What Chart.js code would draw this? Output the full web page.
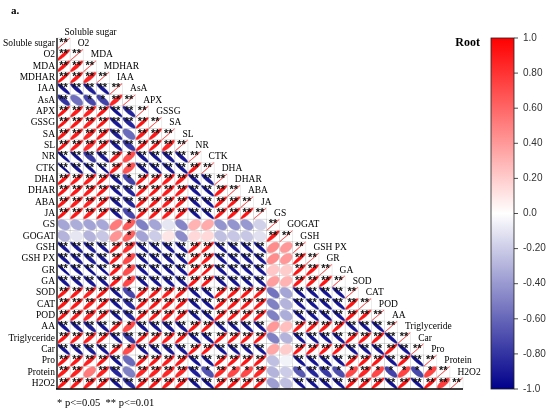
<!DOCTYPE html>
<html>
<head>
<meta charset="utf-8">
<script src="https://cdn.jsdelivr.net/npm/chart.js@4.4.1/dist/chart.umd.min.js"></script>
<style>
html, body { margin: 0; padding: 0; background: #fff; }
#wrap { width: 550px; height: 413px; }
</style>
</head>
<body>
<div id="wrap"><canvas id="corrChart"></canvas></div>
<script>
// variable names, in matrix order (rows top->bottom, columns left->right)
const variables = ['Soluble sugar', 'O2', 'MDA', 'MDHAR', 'IAA', 'AsA', 'APX', 'GSSG', 'SA', 'SL',
    'NR', 'CTK', 'DHA', 'DHAR', 'ABA', 'JA', 'GS', 'GOGAT', 'GSH', 'GSH PX', 'GR', 'GA',
    'SOD', 'CAT', 'POD', 'AA', 'Triglyceride', 'Car', 'Pro', 'Protein', 'H2O2'];

// lower triangle of the correlation matrix
const corrRows = [
    [1],
    [0.93, 1],
    [0.92, 0.90, 1],
    [0.94, 0.91, 0.86, 1],
    [-0.92, -0.90, -0.88, -0.91, 1],
    [-0.80, -0.56, -0.72, -0.74, 0.86, 1],
    [0.93, 0.90, 0.88, 0.92, -0.93, -0.86, 1],
    [0.94, 0.92, 0.89, 0.93, -0.90, -0.85, 0.93, 1],
    [0.92, 0.90, 0.86, 0.91, -0.88, -0.58, 0.90, 0.91, 1],
    [0.93, 0.91, 0.84, 0.92, -0.90, -0.78, 0.92, 0.93, 0.86, 1],
    [-0.95, -0.93, -0.78, -0.90, 0.90, 0.70, -0.91, -0.92, -0.90, -0.91, 1],
    [-0.97, -0.92, -0.93, -0.96, 0.90, 0.68, -0.92, -0.93, -0.91, -0.92, 0.92, 1],
    [0.92, 0.91, 0.89, 0.92, -0.90, -0.74, 0.92, 0.92, 0.90, 0.90, -0.91, -0.90, 1],
    [0.93, 0.91, 0.90, 0.92, -0.92, -0.86, 0.92, 0.93, 0.90, 0.91, -0.92, -0.93, 0.91, 1],
    [0.92, 0.90, 0.88, 0.92, -0.91, -0.85, 0.92, 0.92, 0.90, 0.91, -0.92, -0.92, 0.92, 0.93, 1],
    [0.93, 0.91, 0.89, 0.92, -0.91, -0.72, 0.92, 0.92, 0.90, 0.91, -0.92, -0.93, 0.92, 0.92, 0.93, 1],
    [-0.35, -0.32, -0.36, -0.34, 0.52, 0.64, -0.50, -0.35, -0.10, -0.48, 0.30, 0.33, -0.42, -0.42, -0.40, -0.18, 1],
    [-0.30, -0.10, -0.30, -0.22, 0.42, 0.62, -0.36, -0.20, 0.10, -0.45, 0.15, 0.15, -0.25, -0.22, -0.22, -0.12, 0.90, 1],
    [-0.92, -0.91, -0.89, -0.92, 0.92, 0.82, -0.92, -0.93, -0.90, -0.91, 0.92, 0.92, -0.92, -0.92, -0.92, -0.92, 0.45, 0.40, 1],
    [-0.92, -0.90, -0.89, -0.91, 0.91, 0.72, -0.92, -0.92, -0.90, -0.91, 0.92, 0.91, -0.92, -0.92, -0.91, -0.92, 0.45, 0.40, 0.93, 1],
    [-0.96, -0.92, -0.95, -0.96, 0.91, 0.70, -0.92, -0.93, -0.92, -0.92, 0.92, 0.95, -0.92, -0.93, -0.92, -0.92, 0.22, 0.20, 0.92, 0.92, 1],
    [-0.92, -0.91, -0.90, -0.92, 0.91, 0.72, -0.92, -0.92, -0.90, -0.91, 0.92, 0.92, -0.92, -0.92, -0.92, -0.92, 0.38, 0.30, 0.92, 0.92, 0.92, 1],
    [0.92, 0.91, 0.89, 0.92, -0.92, -0.72, 0.92, 0.92, 0.90, 0.91, -0.92, -0.92, 0.92, 0.92, 0.92, 0.92, -0.55, -0.35, -0.92, -0.92, -0.92, -0.92, 1],
    [0.92, 0.91, 0.89, 0.92, -0.92, -0.84, 0.92, 0.92, 0.90, 0.91, -0.92, -0.92, 0.92, 0.92, 0.92, 0.92, -0.50, -0.30, -0.92, -0.92, -0.92, -0.92, 0.92, 1],
    [0.92, 0.91, 0.86, 0.92, -0.92, -0.86, 0.92, 0.92, 0.90, 0.91, -0.92, -0.92, 0.92, 0.92, 0.92, 0.92, -0.50, -0.32, -0.92, -0.92, -0.92, -0.92, 0.92, 0.93, 1],
    [-0.92, -0.91, -0.88, -0.92, 0.92, 0.72, -0.92, -0.92, -0.90, -0.91, 0.92, 0.92, -0.92, -0.92, -0.92, -0.92, 0.40, 0.25, 0.92, 0.92, 0.92, 0.92, -0.92, -0.92, -0.92, 1],
    [0.92, 0.91, 0.89, 0.92, -0.92, -0.80, 0.92, 0.92, 0.90, 0.91, -0.92, -0.92, 0.92, 0.92, 0.92, 0.92, -0.50, -0.30, -0.92, -0.92, -0.92, -0.92, 0.92, 0.92, 0.92, -0.92, 1],
    [-0.92, -0.91, -0.89, -0.92, 0.92, 0.70, -0.92, -0.92, -0.90, -0.91, 0.92, 0.92, -0.92, -0.92, -0.92, -0.92, 0.35, 0.20, 0.92, 0.92, 0.92, 0.92, -0.92, -0.92, -0.92, 0.92, -0.92, 1],
    [0.92, 0.91, 0.88, 0.92, -0.92, -0.58, 0.92, 0.92, 0.90, 0.91, -0.92, -0.92, 0.92, 0.92, 0.92, 0.92, -0.25, -0.05, -0.92, -0.92, -0.92, -0.92, 0.92, 0.92, 0.92, -0.92, 0.92, -0.92, 1],
    [0.90, 0.88, 0.52, 0.88, -0.85, -0.50, 0.86, 0.88, 0.85, 0.86, -0.88, -0.68, 0.85, 0.72, 0.72, 0.85, -0.30, -0.20, -0.66, -0.86, -0.78, -0.70, 0.72, 0.86, 0.72, -0.74, 0.74, -0.72, 0.74, 1],
    [0.92, 0.91, 0.89, 0.92, -0.92, -0.84, 0.92, 0.92, 0.90, 0.91, -0.92, -0.92, 0.92, 0.92, 0.92, 0.92, -0.38, -0.25, -0.92, -0.92, -0.92, -0.92, 0.92, 0.92, 0.92, -0.92, 0.92, -0.92, 0.92, 0.76, 1]
];

// colour bar ticks
const barTicks = [1, 0.8, 0.6, 0.4, 0.2, 0, -0.2, -0.4, -0.6, -0.8, -1];
const barTickLabels = ['1.0', '0.80', '0.60', '0.40', '0.20', '0.0', '-0.20', '-0.40', '-0.60', '-0.80', '-1.0'];

const n = variables.length;
const cells = [];
corrRows.forEach((row, i) => row.forEach((r, j) => cells.push({ x: j + 0.5, y: i + 0.5, r: r })));

// white -> red for positive, white -> navy for negative
function corrColor(r) {
    const t = Math.min(1, Math.abs(r));
    if (r >= 0) {
        const g = Math.round(255 * (1 - t));
        return 'rgb(255,' + g + ',' + g + ')';
    }
    const c = Math.round(255 * (1 - t));
    return 'rgb(' + c + ',' + c + ',' + Math.round(255 - 116 * t) + ')';
}

function stars(r) {
    const a = Math.abs(r);
    if (a >= 0.76) return '**';
    if (a >= 0.6) return '*';
    return '';
}

const serif = '"Liberation Serif", "Times New Roman", serif';
const sans = '"Liberation Sans", Arial, sans-serif';

const ellipsePlugin = {
    id: 'corrEllipses',
    afterDatasetsDraw(chart) {
        const ctx = chart.ctx;
        const xs = chart.scales.x, ys = chart.scales.y, bar = chart.scales.bar;
        const area = chart.chartArea;
        const meta = chart.getDatasetMeta(0);
        ctx.save();

        // cell borders
        ctx.strokeStyle = 'rgba(0,0,0,0.13)';
        ctx.lineWidth = 0.6;
        cells.forEach(c => {
            const x0 = xs.getPixelForValue(c.x - 0.5), x1 = xs.getPixelForValue(c.x + 0.5);
            const y0 = ys.getPixelForValue(c.y - 0.5), y1 = ys.getPixelForValue(c.y + 0.5);
            ctx.strokeRect(x0, y0, x1 - x0, y1 - y0);
        });

        // ellipses
        const K = 0.93;
        meta.data.forEach((pt, k) => {
            const c = cells[k];
            const hw = (xs.getPixelForValue(c.x + 0.5) - xs.getPixelForValue(c.x - 0.5)) / 2 * K;
            const hh = (ys.getPixelForValue(c.y + 0.5) - ys.getPixelForValue(c.y - 0.5)) / 2 * K;
            const a = Math.sqrt(1 + c.r) / Math.SQRT2;
            const b = Math.sqrt(Math.max(0, 1 - c.r)) / Math.SQRT2;
            ctx.beginPath();
            for (let s = 0; s <= 48; s++) {
                const t = s / 48 * 2 * Math.PI;
                const u = a * Math.cos(t) + b * Math.sin(t);
                const v = a * Math.cos(t) - b * Math.sin(t);
                const px = pt.x + u * hw, py = pt.y - v * hh;
                if (s === 0) ctx.moveTo(px, py); else ctx.lineTo(px, py);
            }
            ctx.closePath();
            ctx.fillStyle = corrColor(c.r);
            ctx.fill();
            ctx.strokeStyle = c.r >= 1 ? 'rgba(255,60,60,0.9)' : corrColor(c.r);
            ctx.lineWidth = c.r >= 1 ? 0.8 : 0.5;
            ctx.stroke();
        });

        // significance marks
        ctx.fillStyle = '#111';
        ctx.font = 'bold 11px ' + sans;
        ctx.textAlign = 'center';
        ctx.textBaseline = 'top';
        cells.forEach(c => {
            const s = stars(c.r);
            if (!s) return;
            ctx.fillText(s, xs.getPixelForValue(c.x), ys.getPixelForValue(c.y - 0.5) - 0.5);
        });

        // axis lines
        ctx.strokeStyle = '#555';
        ctx.lineWidth = 2;
        ctx.beginPath();
        ctx.moveTo(area.left, area.top);
        ctx.lineTo(area.left, area.bottom);
        ctx.stroke();
        ctx.strokeStyle = '#000';
        ctx.lineWidth = 1.5;
        ctx.beginPath();
        ctx.moveTo(area.left - 1, area.bottom);
        ctx.lineTo(area.right, area.bottom);
        ctx.stroke();

        // row labels and diagonal column labels
        ctx.fillStyle = '#000';
        ctx.font = '9.5px ' + serif;
        ctx.textBaseline = 'middle';
        variables.forEach((name, i) => {
            ctx.textAlign = 'right';
            ctx.fillText(name, area.left - 2, ys.getPixelForValue(i + 0.5));
            ctx.textAlign = 'left';
            ctx.fillText(name, xs.getPixelForValue(i + 0.5) + 1, ys.getPixelForValue(i - 0.5));
        });

        // colour bar
        const bx0 = area.right + 28, bx1 = area.right + 51;
        const by0 = bar.getPixelForValue(1), by1 = bar.getPixelForValue(-1);
        const grad = ctx.createLinearGradient(0, by0, 0, by1);
        for (let s = 0; s <= 20; s++) {
            grad.addColorStop(s / 20, corrColor(1 - s / 10));
        }
        ctx.fillStyle = grad;
        ctx.fillRect(bx0, by0, bx1 - bx0, by1 - by0);
        ctx.strokeStyle = '#222';
        ctx.lineWidth = 0.8;
        ctx.strokeRect(bx0, by0, bx1 - bx0, by1 - by0);
        ctx.font = '10px ' + sans;
        ctx.fillStyle = '#333';
        ctx.textAlign = 'left';
        ctx.textBaseline = 'middle';
        barTicks.forEach((v, k) => {
            const py = bar.getPixelForValue(v);
            ctx.beginPath();
            ctx.moveTo(bx1, py);
            ctx.lineTo(bx1 + 4, py);
            ctx.stroke();
            ctx.fillText(barTickLabels[k], bx1 + 9, py);
        });

        // titles and note
        ctx.fillStyle = '#000';
        ctx.font = 'bold 12px ' + serif;
        ctx.textAlign = 'right';
        ctx.fillText('Root', bx0 - 11, by0 + 5);
        ctx.font = 'bold 11px ' + serif;
        ctx.textAlign = 'left';
        ctx.fillText('a.', 11, 11);
        ctx.font = '10.5px ' + serif;
        ctx.fillText('* p<=0.05  ** p<=0.01', area.left, area.bottom + 14);
        ctx.restore();
    }
};

const ctx = document.getElementById('corrChart').getContext('2d');
new Chart(ctx, {
    type: 'scatter',
    data: {
        datasets: [{
            label: 'Root',
            data: cells,
            pointRadius: 0,
            pointHoverRadius: 0
        }]
    },
    options: {
        responsive: true,
        maintainAspectRatio: false,
        animation: false,
        events: [],
        layout: {
            padding: { left: 57, top: 38, right: 87, bottom: 24 }
        },
        plugins: {
            legend: { display: false },
            tooltip: { enabled: false }
        },
        scales: {
            x: { type: 'linear', min: 0, max: n, display: false },
            y: { type: 'linear', min: 0, max: n, reverse: true, display: false },
            bar: { type: 'linear', axis: 'y', min: -1, max: 1, display: false }
        }
    },
    plugins: [ellipsePlugin]
});
</script>
</body>
</html>
